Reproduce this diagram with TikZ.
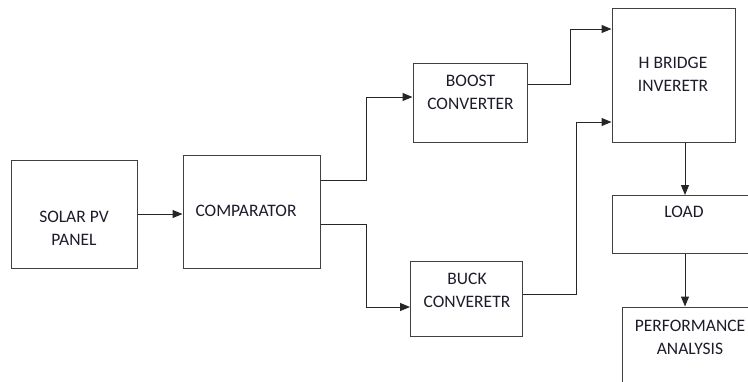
\documentclass[tikz,border=0pt]{standalone}
\usepackage{fontspec}
\setmainfont{Carlito}
\usetikzlibrary{arrows.meta}
\definecolor{boxline}{RGB}{64,64,64}
\definecolor{txt}{RGB}{28,28,44}
\begin{document}
\begin{tikzpicture}[x=1pt,y=-1pt,
  blk/.style={draw=boxline,line width=1pt,fill=white,inner sep=0pt},
  lbl/.style={align=center,text=txt,font=\fontsize{17.5}{23}\selectfont,inner sep=0pt},
  arr/.style={draw=black!85,line width=1pt,-{Triangle[length=10pt,width=8pt]}},
  ln/.style={draw=black!85,line width=1pt}]
\useasboundingbox[fill=white] (0,0) rectangle (748,381);
\node[blk,minimum width=126pt,minimum height=108pt] (solar) at (74,214) {};
\node[lbl] (solart) at (74,228.5) {SOLAR PV\\PANEL};
\node[blk,minimum width=137pt,minimum height=113pt] (comp) at (251.5,211.5) {};
\node[lbl] (compt) at (246,211) {COMPARATOR};
\node[blk,minimum width=114pt,minimum height=79pt] (boost) at (470,102.5) {};
\node[lbl] (boostt) at (470.5,92) {BOOST\\CONVERTER};
\node[blk,minimum width=112pt,minimum height=75pt] (buck) at (466.5,299) {};
\node[lbl] (buckt) at (467,290) {BUCK\\CONVERETR};
\node[blk,minimum width=123pt,minimum height=134pt] (hb) at (673.5,75) {};
\node[lbl] (hbt) at (673,74.5) {H BRIDGE\\INVERETR};
\node[blk,minimum width=138pt,minimum height=58pt] (load) at (681,224.5) {};
\node[lbl] (loadt) at (684,212) {LOAD};
\node[blk,minimum width=138pt,minimum height=88pt] (perf) at (691,351) {};
\node[lbl] (perft) at (690,337) {PERFORMANCE\\ANALYSIS};
\draw[arr] (solar.east) -- (solar.east -| comp.west);
\draw[arr] ([yshift=31.5pt]comp.east) -- ++(46,0) |- ([yshift=5.5pt]boost.west);
\draw[arr] ([yshift=-12.5pt]comp.east) -- ++(46,0) |- ([yshift=-8pt]buck.west);
\draw[arr] ([yshift=18.5pt]boost.east) -- ++(43,0) |- ([yshift=46pt]hb.west);
\draw[arr] ([yshift=5pt]buck.east) -- ++(53,0) |- ([yshift=-47pt]hb.west);
\coordinate (hbs) at ([xshift=11.5pt]hb.south);
\draw[arr] (hbs) -- (hbs |- load.north);
\coordinate (lds) at (hbs |- load.south);
\draw[arr] (lds) -- (lds |- perf.north);
\end{tikzpicture}
\end{document}
